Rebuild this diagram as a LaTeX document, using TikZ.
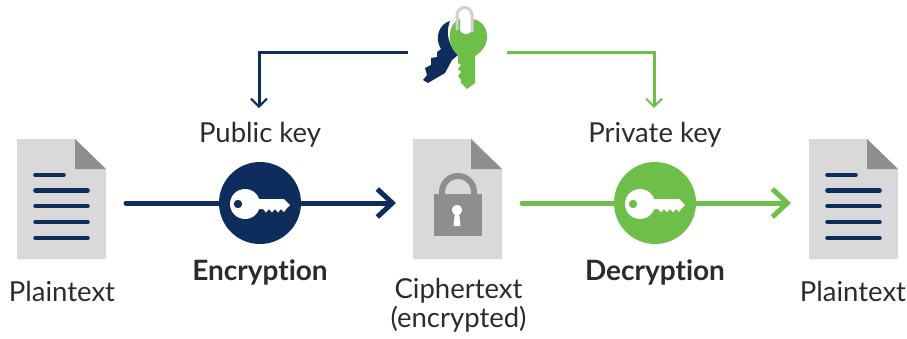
\documentclass[tikz,border=0pt]{standalone}
\usepackage{fontspec}
\setmainfont[Ligatures=NoCommon]{Lato}
\usetikzlibrary{arrows.meta}
\definecolor{navy}{HTML}{0F2D5C}
\definecolor{leaf}{HTML}{6EBE4A}
\definecolor{paper}{HTML}{D9D9DA}
\definecolor{fold}{HTML}{8E8E8F}
\definecolor{ink}{HTML}{2B2B2B}
\tikzset{
  x=1pt,y=-1pt,
  lbl/.style={font=\fontsize{27.5}{29}\selectfont,text=ink,align=center,inner sep=0pt},
  blbl/.style={lbl,font=\fontsize{28}{29}\selectfont\bfseries},
  bigarrow/.style={line width=5pt,line cap=round,-{Straight Barb[length=15pt,width=28pt,line width=5pt]}},
  thinarrow/.style={line width=3pt,-{Straight Barb[length=8pt,width=16pt,line width=2pt]}},
  disc/.style={circle,minimum size=82pt,inner sep=0pt},
  txtline/.style={line width=4.6pt,line cap=round,navy},
  pics/docsheet/.style={code={
    \fill[paper] (0,0) -- (58,0) -- (89,30) -- (89,120) -- (0,120) -- cycle;
    \fill[fold] (58,0) -- (89,30) -- (58,30) -- cycle;
  }},
  pics/textlines/.style={code={
    \draw[txtline] (0,0) -- (28,0);
    \foreach \d in {15.5,31,47,63} \draw[txtline] (0,\d) -- (52,\d);
  }},
  pics/whitekey/.style={code={
    \fill[white] (0,0) circle[radius=15];
    \fill[white] (8,-5) -- (39,-5) -- (45,1) -- (42,4) -- (39,8) -- (36,5) -- (33,8.5) -- (30,5) -- (27,8.5) -- (24,5) -- (21,8.5) -- (18,5) -- (8,5) -- cycle;
  }}
}
\begin{document}
\begin{tikzpicture}
\useasboundingbox (0,0) rectangle (907,338);

% documents
\pic at (17,139) {docsheet};
\pic at (35.5,175) {textlines};
\pic at (413,139) {docsheet};
\pic at (809,139) {docsheet};
\pic at (827.5,175) {textlines};

% padlock
\draw[fold,line width=6pt] (442,198) -- (442,192) arc[start angle=180,delta angle=180,radius=16] -- (474,198);
\fill[fold] (434,194) rectangle (482,236);
\fill[white] (457,210) circle[radius=5.2];
\fill[white] (455,212) -- (459,212) -- (460.5,226) -- (453.5,226) -- cycle;

% anchors
\coordinate (encstart) at (126,203);
\coordinate (encend) at (396,203);
\coordinate (decstart) at (522,203);
\coordinate (decend) at (791,203);
\coordinate (pubstart) at (408,52);
\coordinate (pubend) at (259,108);
\coordinate (privstart) at (507,52);
\coordinate (privend) at (654,108);

% connectors
\draw[navy,bigarrow] (encstart) -- (encend);
\draw[leaf,bigarrow] (decstart) -- (decend);
\draw[navy,thinarrow] (pubstart) -| (pubend);
\draw[leaf,thinarrow] (privstart) -| (privend);

% discs
\node[disc,fill=navy] (enc) at (260,203) {};
\node[disc,fill=leaf] (dec) at (655,203) {};
\pic at (245,204) {whitekey};
\pic at (640,204) {whitekey};
\fill[navy] (238,204) circle[radius=4.2];
\fill[leaf] (633,204) circle[radius=4.2];

% navy key
\fill[navy] (450,21) .. controls (439,24) and (434,38) .. (441,49)
  -- (437,52) -- (437,57) -- (431,58) -- (431,65) -- (425,68) -- (427,75) -- (423,80) -- (428,83) -- (445,73)
  -- (452,60) -- (458,55) .. controls (449,46) and (445,34) .. (450,21) -- cycle;

% green key
\fill[leaf] (460,19) .. controls (447,23) and (446,47) .. (458,55)
  -- (458,63) -- (461,65) -- (458,69) -- (461,72) -- (458,76) -- (461,80) -- (461,83) -- (467,89) -- (475,83)
  -- (475,56) .. controls (492,46) and (491,23) .. (473,19)
  -- (472,29) .. controls (472,36) and (460,36) .. (460,29) -- cycle;

% key ring
\draw[black!18,line width=3pt] (457,30) -- (457,15) arc[start angle=180,delta angle=180,radius=7.5] -- (472,32);

% labels
\node[lbl] (pub) at (260,135) {Public key};
\node[lbl] (priv) at (655,135) {Private key};
\node[blbl] (enclbl) at (260,272) {Encryption};
\node[blbl] (declbl) at (655,272) {Decryption};
\node[lbl] (p1) at (62,291) {Plaintext};
\node[lbl] (c) at (458.5,305) {Ciphertext\\(encrypted)};
\node[lbl] (p2) at (853,291) {Plaintext};
\end{tikzpicture}
\end{document}
